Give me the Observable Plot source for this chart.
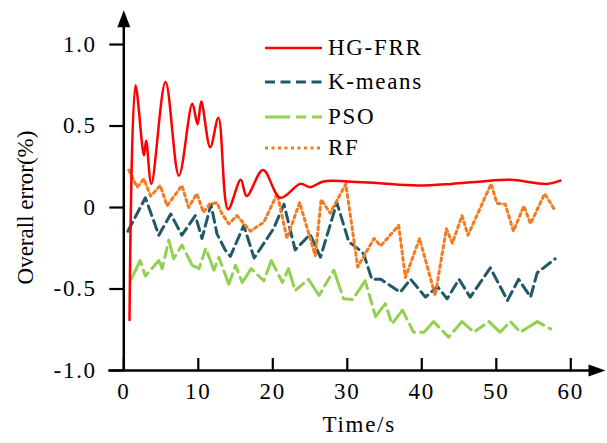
<!DOCTYPE html>
<html><head><meta charset="utf-8">
<script src="https://cdn.jsdelivr.net/npm/d3@7"></script>
<script src="https://cdn.jsdelivr.net/npm/@observablehq/plot@0.6"></script>
<style>
body{margin:0;background:#fff;}
#wrap{position:relative;width:607px;height:443px;font-family:"Liberation Serif","Times New Roman",serif;}
.lg{position:absolute;left:265px;display:flex;align-items:center;height:30px;font-size:23px;letter-spacing:1.7px;color:#000;}
.lg svg{display:block;margin-right:6px;}
</style></head>
<body><div id="wrap"></div>
<script>
// ---- data ----
const seriesNames = ["HG-FRR","K-means","PSO","RF"];
const seriesColors = ["#ff0000","#215968","#92d050","#f47b20"];
const seriesDash = [null,"10,5.5","25,6,10,6","3,3.5"];

const hgT = [0.77,1.57,2.7,3.0,3.7,5.6,7.4,9.2,9.9,10.4,11.6,12.7,14.0,15.7,16.5,18.7,21.0,23.7,25.0,26.8,30,34,39.4,44,48,51.9,56.8,58.6];
const hgV = [-0.69,0.75,0.32,0.41,0.145,0.77,0.196,0.636,0.51,0.65,0.37,0.55,-0.01,0.17,0.07,0.23,0.06,0.145,0.125,0.16,0.16,0.15,0.135,0.145,0.16,0.17,0.145,0.165];

const kmT = [0.55,2.9,4.7,6.3,7.8,9.6,10.5,11.7,12.5,13.6,14.3,16.1,17.5,20.1,21.5,23.0,25.0,26.4,28.6,30.2,31.5,32.2,33.3,34.5,37.1,38.5,40.5,42.1,43.4,45.0,46.5,49.2,51.5,53.0,54.6,55.5,57.9];
const kmV = [-0.145,0.06,-0.17,-0.04,-0.17,-0.05,-0.19,0.02,-0.16,-0.26,-0.30,-0.11,-0.31,-0.13,0.02,-0.26,-0.165,-0.305,0.03,-0.21,-0.255,-0.285,-0.44,-0.44,-0.52,-0.44,-0.55,-0.485,-0.56,-0.44,-0.55,-0.37,-0.57,-0.44,-0.55,-0.40,-0.315];

const psoT = [1.0,2.2,2.9,4.7,5.15,6.05,6.7,7.8,9.2,10.1,11.0,12.1,12.75,14.1,15.0,15.9,17.1,18.8,19.8,21.3,22.1,23.0,24.8,26.2,28.2,29.5,30.7,32.4,33.8,35.1,36.0,37.4,38.9,40.3,41.6,43.6,45.4,47.0,49.0,50.5,51.9,53.2,55.5,57.3];
const psoV = [-0.44,-0.325,-0.42,-0.325,-0.375,-0.2,-0.315,-0.23,-0.355,-0.375,-0.25,-0.385,-0.305,-0.47,-0.355,-0.46,-0.375,-0.45,-0.325,-0.46,-0.375,-0.51,-0.44,-0.54,-0.385,-0.56,-0.565,-0.45,-0.67,-0.59,-0.715,-0.63,-0.765,-0.765,-0.70,-0.795,-0.70,-0.765,-0.70,-0.765,-0.70,-0.765,-0.70,-0.745];

const rfT = [0.67,1.8,2.7,3.6,4.9,5.8,7.8,8.7,9.8,10.7,11.5,12.5,13.2,14.1,15.2,17.0,18.8,20.6,21.9,23.6,25.7,26.5,27.7,29.8,31.4,32.2,33.6,34.5,36.9,37.8,39.7,41.8,43.3,44.1,45.4,46.2,49.3,50.1,51.2,52.3,53.7,54.6,56.5,57.9];
const rfV = [0.23,0.125,0.175,0.07,0.135,0.01,0.135,0.0,0.085,-0.03,0.02,0.03,-0.04,-0.1,-0.05,-0.145,-0.09,0.085,-0.19,0.03,-0.295,0.05,-0.035,0.145,-0.365,-0.30,-0.19,-0.235,-0.11,-0.43,-0.19,-0.54,-0.13,-0.22,-0.05,-0.17,0.145,0.025,0.02,-0.145,0.01,-0.10,0.085,-0.02];

const xTicks = [0,10,20,30,40,50,60];
const yTicks = [-1,-0.5,0,0.5,1];
const yTickLabels = ["-1.0","-0.5","0","0.5","1.0"];
const xLabel = "Time/s";
const yLabel = "Overall error(%)";

// ---- build ----
const rows = (T,V) => T.map((t,i)=>({t, v:V[i]}));
const xDomain = [0, 64.66], yDomain = [-1, 1.21];
const upArrow = {draw(c){c.moveTo(0,0);c.lineTo(6.5,17);c.lineTo(-6.5,17);c.closePath();}};
const rightArrow = {draw(c){c.moveTo(0,0);c.lineTo(-17,6);c.lineTo(-17,-6);c.closePath();}};
const H = 443, mT = 9.8, mB = 73;

const chart = Plot.plot({
  width: 607, height: H,
  marginLeft: 123.3, marginRight: 2, marginTop: mT, marginBottom: mB,
  x: {domain: xDomain}, y: {domain: yDomain},
  style: {fontFamily: '"Liberation Serif","Times New Roman",serif', fontSize: "23px", letterSpacing: "1.7px", color: "#000", background: "#fff", overflow: "visible"},
  marks: [
    Plot.line(rows(psoT,psoV), {x:"t", y:"v", stroke: seriesColors[2], strokeWidth: 3, strokeDasharray: seriesDash[2]}),
    Plot.line(rows(kmT,kmV), {x:"t", y:"v", stroke: seriesColors[1], strokeWidth: 3, strokeDasharray: seriesDash[1]}),
    Plot.line(rows(rfT,rfV), {x:"t", y:"v", stroke: seriesColors[3], strokeWidth: 3, strokeDasharray: seriesDash[3]}),
    Plot.line(rows(hgT,hgV), {x:"t", y:"v", stroke: seriesColors[0], strokeWidth: 2.5, curve: "catmull-rom"}),
    Plot.axisY(yTicks, {tickSize: 14, tickPadding: 13, strokeWidth: 2.2, label: null, tickFormat: d => yTickLabels[yTicks.indexOf(d)]}),
    Plot.axisX(xTicks, {tickSize: 0, tickPadding: 12, label: null, tickFormat: d => String(d)}),
    Plot.tickX(xTicks, {x: d => d, insetTop: (H - mT - mB) - 12, stroke: "#000", strokeWidth: 2.2}),
    Plot.ruleY([yDomain[0]], {insetLeft: -15, insetRight: 12, stroke: "#000", strokeWidth: 2.5}),
    Plot.ruleX([xDomain[0]], {insetTop: 12, stroke: "#000", strokeWidth: 2.5}),
    Plot.dot([0], {x: xDomain[0], y: yDomain[1], symbol: upArrow, fill: "#000", stroke: "none", r: 1}),
    Plot.dot([0], {x: xDomain[1], y: yDomain[0], symbol: rightArrow, fill: "#000", stroke: "none", r: 1}),
    Plot.text([yLabel], {text: d => d, frameAnchor: "left", y: 0, dx: -98, rotate: -90, textAnchor: "middle"}),
    Plot.text([xLabel], {text: d => d, x: 31.6, frameAnchor: "bottom", dy: 61})
  ]
});
const wrap = document.getElementById("wrap");
wrap.appendChild(chart);
// y label in the reference has no extra letter spacing
d3.select(chart).selectAll("text").filter(function(){ return this.textContent === yLabel; }).style("letter-spacing", "0px");

// legend
const legendY = [48, 82, 117, 148];
seriesNames.forEach((name, i) => {
  const row = document.createElement("div");
  row.className = "lg";
  row.style.top = (legendY[i] - 15) + "px";
  const ns = "http://www.w3.org/2000/svg";
  const s = document.createElementNS(ns, "svg");
  s.setAttribute("width", 57); s.setAttribute("height", 6);
  const l = document.createElementNS(ns, "line");
  l.setAttribute("x1", 0); l.setAttribute("x2", 57); l.setAttribute("y1", 3); l.setAttribute("y2", 3);
  l.setAttribute("stroke", seriesColors[i]); l.setAttribute("stroke-width", i === 0 ? 2.5 : 3);
  if (seriesDash[i]) l.setAttribute("stroke-dasharray", seriesDash[i]);
  s.appendChild(l);
  row.appendChild(s);
  const t = document.createElement("span");
  t.textContent = name;
  row.appendChild(t);
  wrap.appendChild(row);
});
</script>
</body></html>
